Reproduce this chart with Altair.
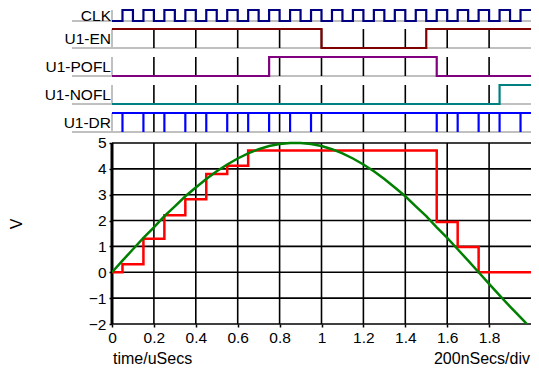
import altair as alt
import pandas as pd

# ---------------- data ----------------
signal_names = ["CLK", "U1-EN", "U1-POFL", "U1-NOFL", "U1-DR"]
signal_colors = ["#000080", "#800000", "#800080", "#008080", "#0000FF"]

clk_times = [0.00, 0.05, 0.10, 0.15, 0.20, 0.25, 0.30, 0.35, 0.40, 0.45,
             0.50, 0.55, 0.60, 0.65, 0.70, 0.75, 0.80, 0.85, 0.90, 0.95,
             1.00, 1.05, 1.10, 1.15, 1.20, 1.25, 1.30, 1.35, 1.40, 1.45,
             1.50, 1.55, 1.60, 1.65, 1.70, 1.75, 1.80, 1.85, 1.90, 1.95]
clk_states = [0, 1, 0, 1, 0, 1, 0, 1, 0, 1,
              0, 1, 0, 1, 0, 1, 0, 1, 0, 1,
              0, 1, 0, 1, 0, 1, 0, 1, 0, 1,
              0, 1, 0, 1, 0, 1, 0, 1, 0, 1]

en_times = [0.0, 1.0, 1.5]
en_states = [1, 0, 1]
pofl_times = [0.0, 0.75, 1.55]
pofl_states = [0, 1, 0]
nofl_times = [0.0, 1.85]
nofl_states = [0, 1]
dr_times = [0.0]
dr_states = [1]
dr_pulse_times = [0.05, 0.15, 0.25, 0.35, 0.45, 0.55, 0.65, 0.75, 0.85, 0.95,
                  1.55, 1.65, 1.75, 1.85, 1.95]

red_times = [0.00, 0.05, 0.15, 0.25, 0.35, 0.45, 0.55, 0.65, 1.55, 1.65, 1.75, 2.00]
red_values = [0.00, 0.31, 1.30, 2.21, 2.82, 3.80, 4.12, 4.71, 1.94, 0.98, 0.00, 0.00]

green_times = [0.00, 0.05, 0.10, 0.15, 0.20, 0.25, 0.30, 0.35, 0.40, 0.45,
               0.50, 0.55, 0.60, 0.65, 0.70, 0.75, 0.80, 0.85, 0.90, 0.95,
               1.00, 1.05, 1.10, 1.15, 1.20, 1.25, 1.30, 1.35, 1.40, 1.45,
               1.50, 1.55, 1.60, 1.65, 1.70, 1.75, 1.80, 1.85, 1.90, 1.95, 2.00]
green_values = [0.00, 0.45, 0.89, 1.33, 1.74, 2.17, 2.55, 2.94, 3.28, 3.61,
                3.91, 4.17, 4.40, 4.60, 4.76, 4.88, 4.96, 5.00, 5.00, 4.96,
                4.88, 4.76, 4.60, 4.40, 4.17, 3.91, 3.61, 3.28, 2.94, 2.55,
                2.17, 1.74, 1.33, 0.89, 0.45, 0.00, -0.45, -0.89, -1.33, -1.74, -2.17]

x_ticks = [0, 0.2, 0.4, 0.6, 0.8, 1.0, 1.2, 1.4, 1.6, 1.8]
x_grid = [0.2, 0.4, 0.6, 0.8, 1.0, 1.2, 1.4, 1.6, 1.8]
y_ticks = [-2, -1, 0, 1, 2, 3, 4, 5]
x_start, x_end = 0.0, 2.0
y_min, y_max = -2, 5
x_label = "time/uSecs"
x_scale_label = "200nSecs/div"
y_label = "V"

# ---------------- layout ----------------
W, H = 419, 316
SVG_H = 360
YTOP = 10.22                       # extra room above the analog plot for the digital rows
UPX = (YTOP - y_min) / H           # value units per pixel
row_base_px = [13, 40, 68, 96, 124]
row_amp_px = [11, 19, 19, 19, 19]
row_label_px = [12.5, 36.3, 64.3, 92.3, 120.3]
base_val = [YTOP - p * UPX for p in row_base_px]
high_val = [YTOP - (p - a) * UPX for p, a in zip(row_base_px, row_amp_px)]
label_val = [YTOP - p * UPX for p in row_label_px]

FONT = "Liberation Sans"
xscale = alt.Scale(domain=[x_start, x_end], nice=False, zero=False)
yscale = alt.Scale(domain=[y_min, YTOP], nice=False, zero=False)
xaxis = alt.Axis(values=x_ticks, format="~g", grid=False, domain=False, ticks=True,
                 tickSize=3, tickColor="black", tickWidth=1.5, labelFont=FONT,
                 labelFontSize=15.5, labelColor="black", labelPadding=3,
                 labelFlush=False, labelOverlap=False, title=None)
yaxis = alt.Axis(values=y_ticks, grid=False, domain=False, ticks=True, tickSize=3,
                 tickColor="black", tickWidth=1.5, labelFont=FONT, labelFontSize=15.5,
                 labelColor="black", labelPadding=3, labelOverlap=False,
                 title=y_label, titleFont=FONT, titleFontSize=16, titleFontWeight="normal",
                 titleColor="black", titleAngle=270, titleX=-91, titleY=215.5,
                 titleAlign="center", titleBaseline="alphabetic")


def X(f):
    return alt.X(f, type="quantitative", scale=xscale, axis=xaxis)


def Y(f):
    return alt.Y(f, type="quantitative", scale=yscale, axis=yaxis)


# digital traces
trace_sets = [(clk_times, clk_states), (en_times, en_states), (pofl_times, pofl_states),
              (nofl_times, nofl_states), (dr_times, dr_states)]
rows = []
for i, (ts, ss) in enumerate(trace_sets):
    pts = list(zip(ts, ss)) + [(x_end, ss[-1])]
    for k, (t, s) in enumerate(pts):
        rows.append({"sig": signal_names[i], "t": t, "k": k,
                     "lvl": base_val[i] + s * (high_val[i] - base_val[i])})
traces = pd.DataFrame(rows)

rowinfo = pd.DataFrame({"sig": signal_names, "base": base_val, "high": high_val,
                        "lab": label_val, "x0": [-0.191] * 5, "x1": [x_end] * 5,
                        "xs": [x_start] * 5})

dgrid = pd.DataFrame([{"t": g, "base": base_val[i], "high": high_val[i]}
                      for i in range(1, 5) for g in x_grid])
pulses = pd.DataFrame({"t": dr_pulse_times, "base": [base_val[4]] * len(dr_pulse_times),
                       "high": [high_val[4]] * len(dr_pulse_times)})

vgrid = pd.DataFrame({"t": x_grid, "lo": [y_min] * len(x_grid), "hi": [y_max] * len(x_grid)})
hgrid = pd.DataFrame({"v": y_ticks, "a": [x_start] * len(y_ticks), "b": [x_end] * len(y_ticks)})
yaxis_line = pd.DataFrame({"t": [x_start], "lo": [y_min], "hi": [y_max]})
red = pd.DataFrame({"t": red_times, "v": red_values})
green = pd.DataFrame({"t": green_times, "v": green_values})
left_txt = pd.DataFrame({"t": [x_start], "txt": [x_label]})
right_txt = pd.DataFrame({"t": [x_end], "txt": [x_scale_label]})

color = alt.Color("sig:N", scale=alt.Scale(domain=signal_names, range=signal_colors), legend=None)

grey_base = alt.Chart(rowinfo).mark_rule(color="#C0C0C0", strokeWidth=2).encode(
    x=X("x0"), x2="x1", y=Y("base"))
grey_left = alt.Chart(rowinfo).mark_rule(color="#C0C0C0", strokeWidth=2).encode(
    x=X("xs"), y=Y("high"), y2="base")
dgrid_l = alt.Chart(dgrid).mark_rule(color="black", strokeWidth=1.6).encode(
    x=X("t"), y=Y("high"), y2="base")
trace_l = alt.Chart(traces).mark_line(interpolate="step-after", strokeWidth=2.2).encode(
    x=X("t"), y=Y("lvl"), color=color, order="k:Q")
pulse_l = alt.Chart(pulses).mark_rule(color="#0000FF", strokeWidth=2.2).encode(
    x=X("t"), y=Y("high"), y2="base")
labels_l = alt.Chart(rowinfo).mark_text(align="right", baseline="alphabetic", dx=-1,
                                        font=FONT, fontSize=15.5, color="black").encode(
    x=X("xs"), y=Y("lab"), text="sig:N")

vgrid_l = alt.Chart(vgrid).mark_rule(color="black", strokeWidth=1.6).encode(
    x=X("t"), y=Y("lo"), y2="hi")
hgrid_l = alt.Chart(hgrid).mark_rule(color="black", strokeWidth=1.6).encode(
    x=X("a"), x2="b", y=Y("v"))
yaxis_l = alt.Chart(yaxis_line).mark_rule(color="black", strokeWidth=3).encode(
    x=X("t"), y=Y("lo"), y2="hi")
red_l = alt.Chart(red).mark_line(interpolate="step-after", color="#FF0000", strokeWidth=2.5,
                                 clip=True).encode(x=X("t"), y=Y("v"))
green_l = alt.Chart(green).mark_line(color="#008000", strokeWidth=2.5, clip=True).encode(
    x=X("t"), y=Y("v"))
left_l = alt.Chart(left_txt).mark_text(align="left", baseline="alphabetic", dx=1,
                                       font=FONT, fontSize=16, color="black").encode(
    x=X("t"), y=alt.value(356), text="txt:N")
right_l = alt.Chart(right_txt).mark_text(align="right", baseline="alphabetic", dx=-1,
                                         font=FONT, fontSize=16, color="black").encode(
    x=X("t"), y=alt.value(356), text="txt:N")

chart = alt.layer(
    grey_base, grey_left, dgrid_l, trace_l, pulse_l, labels_l,
    vgrid_l, hgrid_l, yaxis_l, red_l, green_l, left_l, right_l,
).properties(
    width=W, height=H,
    padding={"left": 104, "right": 0, "top": 0, "bottom": SVG_H - H},
    autosize=alt.AutoSizeParams(type="none"),
    background="white",
).configure_view(stroke=None)

chart.save("out.html", embed_options={"renderer": "svg", "actions": False})
